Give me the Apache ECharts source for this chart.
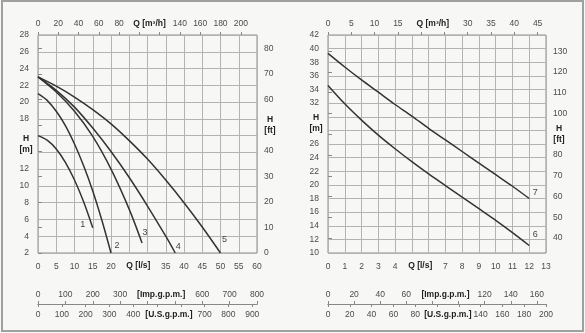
<!DOCTYPE html>
<html>
<head>
<meta charset="utf-8">
<script src="https://cdn.jsdelivr.net/npm/echarts@6/dist/echarts.min.js"></script>
<style>
  html, body { margin: 0; padding: 0; background: #f7f8f6; }
  #chart { width: 585px; height: 333px; }
</style>
</head>
<body>
<div id="chart"></div>
<script>
// Pump performance curves: head H against flow Q, two families.

// Family A (curves 1-5): flow in l/s, head in m
const curve1Q = [0, 2.5, 5, 7.5, 10, 12.5, 15];
const curve1H = [16.0, 15.45, 14.4, 12.8, 10.7, 8.1, 5.0];
const curve2Q = [0, 2.5, 5, 7.5, 10, 12.5, 15, 17.5, 20];
const curve2H = [21.0, 20.2, 18.9, 17.2, 15.0, 12.4, 9.4, 5.9, 2.0];
const curve3Q = [0, 5, 10, 15, 20, 25, 28.5];
const curve3H = [23.0, 21.2, 18.9, 15.9, 12.0, 7.2, 3.2];
const curve4Q = [0, 5, 10, 15, 20, 25, 30, 35, 37.6];
const curve4H = [23.0, 21.4, 19.4, 16.9, 14.1, 11.0, 7.6, 4.0, 2.0];
const curve5Q = [0, 5, 10, 15, 20, 25, 30, 35, 40, 45, 50];
const curve5H = [23.0, 21.9, 20.6, 19.1, 17.4, 15.4, 13.2, 10.7, 8.0, 5.1, 2.0];

// Family B (curves 6-7)
const curve6Q = [0, 1, 2, 3, 4, 5, 6, 7, 8, 9, 10, 11, 12];
const curve6H = [34.6, 31.9, 29.5, 27.3, 25.3, 23.4, 21.6, 19.9, 18.2, 16.5, 14.8, 13.0, 11.1];
const curve7Q = [0, 1, 2, 3, 4, 5, 6, 7, 8, 9, 10, 11, 12];
const curve7H = [39.3, 37.3, 35.4, 33.6, 31.8, 30.1, 28.3, 26.6, 24.9, 23.2, 21.5, 19.8, 18.0];

const curveNames = ['1', '2', '3', '4', '5', '6', '7'];

// Unit conversions for the secondary scales
const FT_PER_M = 3.2808;
const M3H_PER_LS = 3.6;

// Axis ranges
const leftQMax = 60, rightQMax = 13;
const leftHMin = 2, leftHMax = 28;
const rightHMin = 10, rightHMax = 42;
const leftImpMax = 800, leftUsMax = 920;
const rightImpMax = 167, rightUsMax = 200;
const rightFtTicks = [40, 50, 60, 70, 80, 90, 100, 110, 120, 130];

// Panel layout
const P1 = { left: 38, top: 35, width: 219, height: 218 };
const P2 = { left: 328, top: 35, width: 218, height: 218 };
const SCALE_Y = 304;

const FONT = 'Liberation Sans, Arial, sans-serif';
const numLabel = { fontFamily: FONT, fontSize: 8.5, color: '#4a4a4a' };
const gridLine = { show: true, lineStyle: { color: '#b3b3b3', width: 1 } };
const hide = (list) => (v) => (list.indexOf(v) >= 0 ? '' : String(v));

function pairs(q, h) { return q.map((v, i) => [v, h[i]]); }

function curve(name, q, h, xi, yi, offset) {
  return {
    type: 'line', name: name, xAxisIndex: xi, yAxisIndex: yi,
    data: pairs(q, h), smooth: 0.3,
    symbol: 'none', silent: true,
    lineStyle: { color: '#333333', width: 1.5 },
    endLabel: {
      show: true, formatter: name, offset: offset, distance: 0,
      align: 'center', verticalAlign: 'middle',
      fontFamily: FONT, fontSize: 9, color: '#444'
    }
  };
}

const chart = echarts.init(document.getElementById('chart'), null, { renderer: 'canvas' });

const option = {
  animation: false,
  backgroundColor: '#f7f8f6',
  grid: [
    Object.assign({ show: true, borderColor: '#8c8c8c', borderWidth: 1 }, P1),
    Object.assign({ show: true, borderColor: '#8c8c8c', borderWidth: 1 }, P2),
    { left: P1.left, width: P1.width, top: SCALE_Y, height: 0 },
    { left: P2.left, width: P2.width, top: SCALE_Y, height: 0 }
  ],
  xAxis: [
    { gridIndex: 0, type: 'value', position: 'bottom', min: 0, max: leftQMax, interval: 5,
      axisLine: { show: false }, axisTick: { show: false }, splitLine: gridLine,
      axisLabel: Object.assign({ margin: 9, formatter: hide([25, 30]) }, numLabel) },
    { gridIndex: 0, type: 'value', position: 'top', min: 0, max: leftQMax * M3H_PER_LS, interval: 20,
      axisLine: { show: false }, axisTick: { show: true, length: 3, lineStyle: { color: '#888' } },
      splitLine: { show: false },
      axisLabel: Object.assign({ margin: 7, formatter: hide([100, 120]), showMaxLabel: false }, numLabel) },
    { gridIndex: 1, type: 'value', position: 'bottom', min: 0, max: rightQMax, interval: 1,
      axisLine: { show: false }, axisTick: { show: false }, splitLine: gridLine,
      axisLabel: Object.assign({ margin: 9, formatter: hide([5, 6]) }, numLabel) },
    { gridIndex: 1, type: 'value', position: 'top', min: 0, max: rightQMax * M3H_PER_LS, interval: 5,
      axisLine: { show: false }, axisTick: { show: true, length: 3, lineStyle: { color: '#888' } },
      splitLine: { show: false },
      axisLabel: Object.assign({ margin: 7, formatter: hide([20, 25]), showMaxLabel: false }, numLabel) },
    // gallons-per-minute scales under each panel
    { gridIndex: 2, type: 'value', position: 'top', min: 0, max: leftImpMax, interval: 100,
      axisLine: { show: true, lineStyle: { color: '#888' } },
      axisTick: { show: true, length: 3, lineStyle: { color: '#888' } }, splitLine: { show: false },
      axisLabel: Object.assign({ margin: 5, formatter: hide([400, 500]) }, numLabel) },
    { gridIndex: 2, type: 'value', position: 'bottom', min: 0, max: leftUsMax, interval: 100,
      axisLine: { show: true, lineStyle: { color: '#888' } },
      axisTick: { show: true, length: 3, lineStyle: { color: '#888' } }, splitLine: { show: false },
      axisLabel: Object.assign({ margin: 6, formatter: hide([500, 600]), showMaxLabel: false }, numLabel) },
    { gridIndex: 3, type: 'value', position: 'top', min: 0, max: rightImpMax, interval: 20,
      axisLine: { show: true, lineStyle: { color: '#888' } },
      axisTick: { show: true, length: 3, lineStyle: { color: '#888' } }, splitLine: { show: false },
      axisLabel: Object.assign({ margin: 5, formatter: hide([80, 100]), showMaxLabel: false }, numLabel) },
    { gridIndex: 3, type: 'value', position: 'bottom', min: 0, max: rightUsMax, interval: 20,
      axisLine: { show: true, lineStyle: { color: '#888' } },
      axisTick: { show: true, length: 3, lineStyle: { color: '#888' } }, splitLine: { show: false },
      axisLabel: Object.assign({ margin: 6, formatter: hide([100, 120]) }, numLabel) }
  ],
  yAxis: [
    { gridIndex: 0, type: 'value', position: 'left', min: leftHMin, max: leftHMax, interval: 2,
      axisLine: { show: false }, axisTick: { show: false }, splitLine: gridLine,
      axisLabel: Object.assign({ margin: 9, formatter: hide([14, 16]) }, numLabel) },
    { gridIndex: 0, type: 'value', position: 'right', min: 0, max: (leftHMax - leftHMin) * FT_PER_M, interval: 10,
      axisLine: { show: false }, axisTick: { show: true, length: 4, lineStyle: { color: '#888' } },
      splitLine: { show: false },
      axisLabel: Object.assign({ margin: 7, formatter: hide([50]), showMaxLabel: false }, numLabel) },
    { gridIndex: 1, type: 'value', position: 'left', min: rightHMin, max: rightHMax, interval: 2,
      axisLine: { show: false }, axisTick: { show: false }, splitLine: gridLine,
      axisLabel: Object.assign({ margin: 9, formatter: hide([28, 30]) }, numLabel) },
    { gridIndex: 1, type: 'value', position: 'right', min: rightHMin * FT_PER_M, max: rightHMax * FT_PER_M,
      axisLine: { show: false },
      axisTick: { show: true, length: 4, lineStyle: { color: '#888' }, customValues: rightFtTicks },
      splitLine: { show: false },
      axisLabel: Object.assign({ margin: 7, customValues: rightFtTicks, formatter: hide([90]) }, numLabel) },
    { gridIndex: 2, type: 'value', show: false },
    { gridIndex: 3, type: 'value', show: false }
  ],
  series: [
    curve(curveNames[0], curve1Q, curve1H, 0, 0, [-10, -3]),
    curve(curveNames[1], curve2Q, curve2H, 0, 0, [6, -7]),
    curve(curveNames[2], curve3Q, curve3H, 0, 0, [3, -10]),
    curve(curveNames[3], curve4Q, curve4H, 0, 0, [3, -6]),
    curve(curveNames[4], curve5Q, curve5H, 0, 0, [4, -13]),
    curve(curveNames[5], curve6Q, curve6H, 2, 2, [6, -11]),
    curve(curveNames[6], curve7Q, curve7H, 2, 2, [6, -6])
  ]
};

chart.setOption(option);

// Axis titles placed at axis values between the hidden tick labels
const px = (axis, v) => chart.convertToPixel(axis, v);
const title = (text, x, y) => ({
  type: 'text', x: x, y: y, silent: true,
  style: { text: text, align: 'center', verticalAlign: 'middle',
           font: 'bold 8.5px ' + FONT, fill: '#222', lineHeight: 11 }
});

chart.setOption({
  graphic: [
    { type: 'rect', silent: true, shape: { x: 2, y: 1, width: 581, height: 330 },
      style: { fill: null, stroke: '#a0a0a0', lineWidth: 2 } },
    title('Q [m³/h]', px({ xAxisIndex: 1 }, 110), P1.top - 11),
    title('Q [m³/h]', px({ xAxisIndex: 3 }, 22.5), P2.top - 11),
    title('Q [l/s]', px({ xAxisIndex: 0 }, 27.5), P1.top + P1.height + 13),
    title('Q [l/s]', px({ xAxisIndex: 2 }, 5.5), P2.top + P2.height + 13),
    title('H\n[m]', P1.left - 12, px({ yAxisIndex: 0 }, 15)),
    title('H\n[m]', P2.left - 12, px({ yAxisIndex: 2 }, 29)),
    title('H\n[ft]', P1.left + P1.width + 13, px({ yAxisIndex: 1 }, 50)),
    title('H\n[ft]', P2.left + P2.width + 13, px({ yAxisIndex: 3 }, 90)),
    title('[Imp.g.p.m.]', px({ xAxisIndex: 4 }, 450), SCALE_Y - 9),
    title('[U.S.g.p.m.]', px({ xAxisIndex: 5 }, 550), SCALE_Y + 11),
    title('[Imp.g.p.m.]', px({ xAxisIndex: 6 }, 90), SCALE_Y - 9),
    title('[U.S.g.p.m.]', px({ xAxisIndex: 7 }, 110), SCALE_Y + 11)
  ]
});
</script>
</body>
</html>
